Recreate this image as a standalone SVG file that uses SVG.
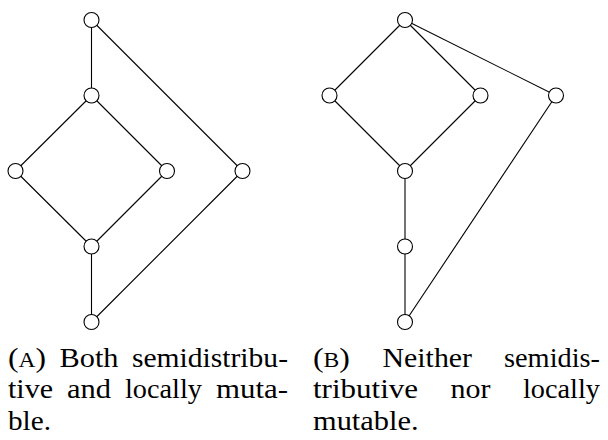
<svg xmlns="http://www.w3.org/2000/svg" width="608" height="440" viewBox="0 0 608 440">
<style>
.e{stroke:#000;stroke-width:1.1;fill:none}
.n{fill:#fff;stroke:#000;stroke-width:1.1}
.t{font-family:"Liberation Serif","Times New Roman",serif;font-size:27px;fill:#000}
.sc{font-size:20px}
</style>
<rect width="608" height="440" fill="#fff"/>
<g id="connectors">
<line class="e" x1="91.5" y1="20" x2="91.5" y2="95.5"/>
<line class="e" x1="91.5" y1="20" x2="242.5" y2="171"/>
<line class="e" x1="91.5" y1="95.5" x2="15.5" y2="171"/>
<line class="e" x1="91.5" y1="95.5" x2="167" y2="171"/>
<line class="e" x1="15.5" y1="171" x2="91.5" y2="246.5"/>
<line class="e" x1="167" y1="171" x2="91.5" y2="246.5"/>
<line class="e" x1="91.5" y1="246.5" x2="91.5" y2="322"/>
<line class="e" x1="242.5" y1="171" x2="91.5" y2="322"/>
<line class="e" x1="405" y1="20" x2="329.5" y2="95.5"/>
<line class="e" x1="405" y1="20" x2="480.5" y2="95.5"/>
<line class="e" x1="405" y1="20" x2="556" y2="95.5"/>
<line class="e" x1="329.5" y1="95.5" x2="405" y2="171"/>
<line class="e" x1="480.5" y1="95.5" x2="405" y2="171"/>
<line class="e" x1="405" y1="171" x2="405" y2="246.5"/>
<line class="e" x1="405" y1="246.5" x2="405" y2="322"/>
<line class="e" x1="556" y1="95.5" x2="405" y2="322"/>
</g>
<g id="a1"><circle class="n" cx="91.5" cy="20" r="7.5"/></g>
<g id="a2"><circle class="n" cx="91.5" cy="95.5" r="7.5"/></g>
<g id="a3"><circle class="n" cx="15.5" cy="171" r="7.5"/></g>
<g id="a4"><circle class="n" cx="167" cy="171" r="7.5"/></g>
<g id="a5"><circle class="n" cx="242.5" cy="171" r="7.5"/></g>
<g id="a6"><circle class="n" cx="91.5" cy="246.5" r="7.5"/></g>
<g id="a7"><circle class="n" cx="91.5" cy="322" r="7.5"/></g>
<g id="b1"><circle class="n" cx="405" cy="20" r="7.5"/></g>
<g id="b2"><circle class="n" cx="329.5" cy="95.5" r="7.5"/></g>
<g id="b3"><circle class="n" cx="480.5" cy="95.5" r="7.5"/></g>
<g id="b4"><circle class="n" cx="556" cy="95.5" r="7.5"/></g>
<g id="b5"><circle class="n" cx="405" cy="171" r="7.5"/></g>
<g id="b6"><circle class="n" cx="405" cy="246.5" r="7.5"/></g>
<g id="b7"><circle class="n" cx="405" cy="322" r="7.5"/></g>
<g id="caption-a" class="t">
<text x="8" y="366.5" textLength="38" lengthAdjust="spacingAndGlyphs">(<tspan class="sc">A</tspan>)</text>
<text x="59.5" y="366.5" textLength="59" lengthAdjust="spacingAndGlyphs">Both</text>
<text x="132" y="366.5" textLength="156" lengthAdjust="spacingAndGlyphs">semidistribu-</text>
<text x="8" y="398" textLength="45" lengthAdjust="spacingAndGlyphs">tive</text>
<text x="67" y="398" textLength="44" lengthAdjust="spacingAndGlyphs">and</text>
<text x="125" y="398" textLength="77" lengthAdjust="spacingAndGlyphs">locally</text>
<text x="216" y="398" textLength="72" lengthAdjust="spacingAndGlyphs">muta-</text>
<text x="8" y="429.5" textLength="43" lengthAdjust="spacingAndGlyphs">ble.</text>
</g>
<g id="caption-b" class="t">
<text x="313" y="366.5" textLength="37" lengthAdjust="spacingAndGlyphs">(<tspan class="sc">B</tspan>)</text>
<text x="382.5" y="366.5" textLength="89.5" lengthAdjust="spacingAndGlyphs">Neither</text>
<text x="504" y="366.5" textLength="96" lengthAdjust="spacingAndGlyphs">semidis-</text>
<text x="313" y="398" textLength="105" lengthAdjust="spacingAndGlyphs">tributive</text>
<text x="450.5" y="398" textLength="40" lengthAdjust="spacingAndGlyphs">nor</text>
<text x="523" y="398" textLength="77" lengthAdjust="spacingAndGlyphs">locally</text>
<text x="313" y="429.5" textLength="105.5" lengthAdjust="spacingAndGlyphs">mutable.</text>
</g>
</svg>
